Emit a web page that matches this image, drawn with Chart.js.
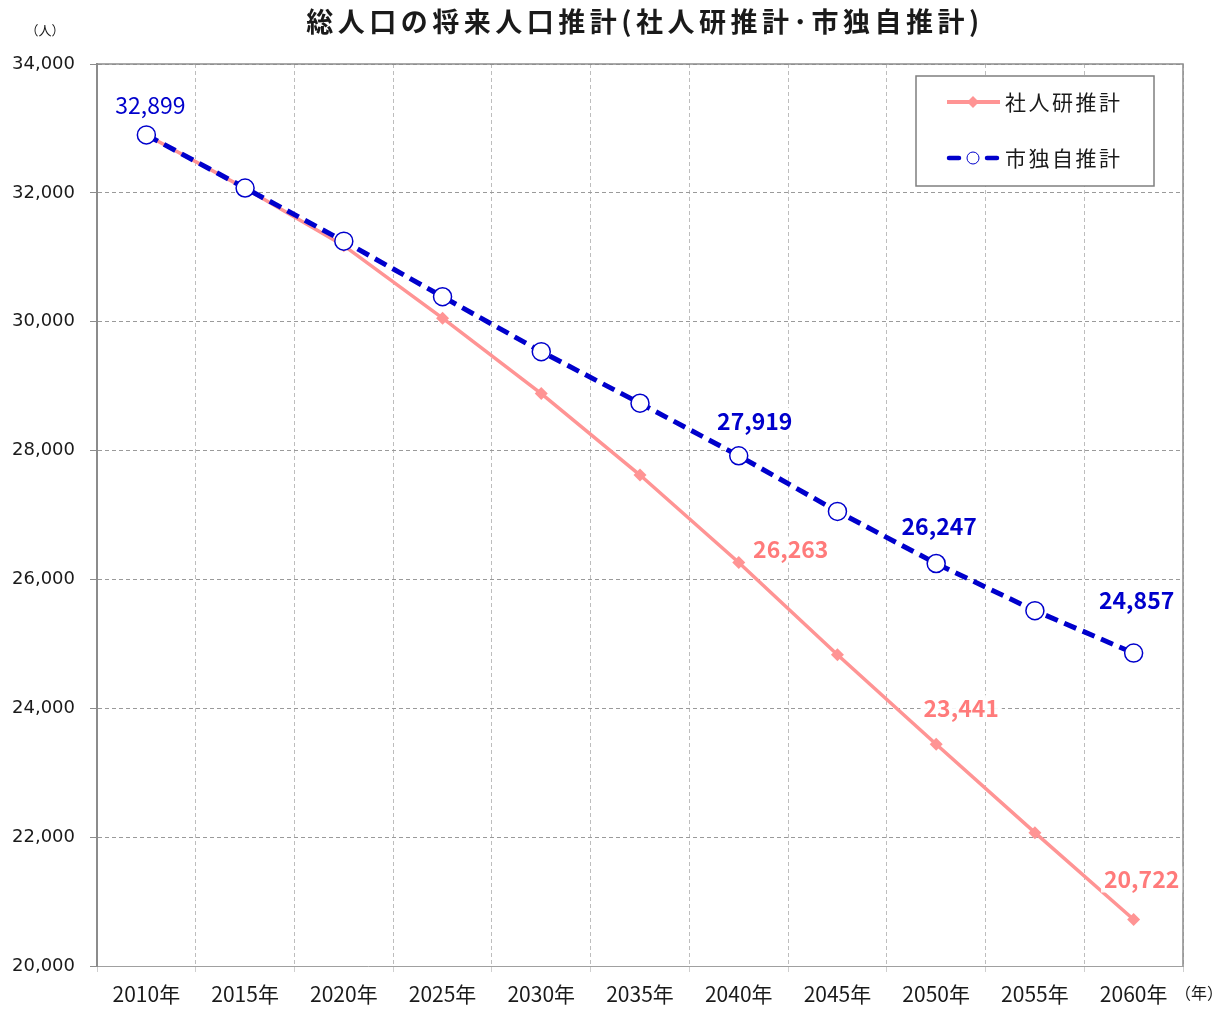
<!DOCTYPE html>
<html>
<head>
<meta charset="utf-8">
<script src="https://cdn.jsdelivr.net/npm/chart.js@4.4.1/dist/chart.umd.min.js"></script>
<style>
  html, body { margin: 0; padding: 0; background: #fff; }
  #wrap { width: 1226px; height: 1009px; position: relative; }
</style>
</head>
<body>
<div id="wrap"><canvas id="chart" width="1226" height="1009"></canvas></div>
<script>
// データ
const years = ['2010年', '2015年', '2020年', '2025年', '2030年', '2035年', '2040年', '2045年', '2050年', '2055年', '2060年'];
const ipssValues = [32899, 32070, 31180, 30055, 28885, 27620, 26263, 24830, 23441, 22070, 20722];
const cityValues = [32899, 32075, 31250, 30388, 29535, 28735, 27919, 27055, 26247, 25515, 24857];
const yTicks = [20000, 22000, 24000, 26000, 28000, 30000, 32000, 34000];
const ipssLabelIdx = [6, 8, 10];
const cityLabelIdx = [0, 6, 8, 10];

const chartTitle = '総人口の将来人口推計(社人研推計･市独自推計)';
const ipssName = '社人研推計';
const cityName = '市独自推計';

const PINK = '#ff9494';
const PINK_TEXT = '#ff7b7b';
const BLUE = '#0000cc';
const JP = '"Noto Sans CJK JP", "Noto Sans", sans-serif';

// ラベル・凡例・枠線を描くプラグイン
const decorPlugin = {
    id: 'decor',
    beforeDatasetsDraw(chart) {
        const { ctx, chartArea: a } = chart;
        ctx.save();
        ctx.strokeStyle = '#8c8c8c';
        ctx.lineWidth = 1.5;
        ctx.beginPath();
        ctx.moveTo(a.left, a.top);
        ctx.lineTo(a.right, a.top);
        ctx.lineTo(a.right, a.bottom);
        ctx.stroke();
        ctx.restore();
    },
    afterDatasetsDraw(chart) {
        const { ctx } = chart;
        const drawLabel = (dsIndex, idx, dx, dy, color, font) => {
            const pt = chart.getDatasetMeta(dsIndex).data[idx];
            const text = chart.data.datasets[dsIndex].data[idx].toLocaleString('en-US');
            ctx.save();
            ctx.font = font;
            ctx.textAlign = 'center';
            ctx.textBaseline = 'middle';
            const w = ctx.measureText(text).width;
            ctx.fillStyle = 'rgba(255,255,255,0.9)';
            ctx.fillRect(pt.x + dx - w / 2 - 3, pt.y + dy - 13, w + 6, 26);
            ctx.fillStyle = color;
            ctx.fillText(text, pt.x + dx, pt.y + dy);
            ctx.restore();
        };
        const pinkOff = { 6: [52, -13], 8: [25, -36], 10: [8, -40] };
        const blueOff = { 0: [4, -30], 6: [16, -35], 8: [3, -37], 10: [3, -53] };
        ipssLabelIdx.forEach(i => drawLabel(0, i, pinkOff[i][0], pinkOff[i][1], PINK_TEXT, 'bold 23px ' + JP));
        cityLabelIdx.forEach(i => drawLabel(1, i, blueOff[i][0], blueOff[i][1], BLUE,
            (i === 0 ? '' : 'bold ') + '23px ' + JP));

        // 凡例
        ctx.save();
        ctx.fillStyle = '#fff';
        ctx.fillRect(916, 76, 238, 110);
        ctx.strokeStyle = '#7f7f7f';
        ctx.lineWidth = 1.5;
        ctx.strokeRect(916, 76, 238, 110);

        ctx.strokeStyle = PINK;
        ctx.lineWidth = 4;
        ctx.beginPath();
        ctx.moveTo(947, 102);
        ctx.lineTo(1000, 102);
        ctx.stroke();
        ctx.fillStyle = PINK;
        ctx.beginPath();
        ctx.moveTo(973, 96); ctx.lineTo(979, 102); ctx.lineTo(973, 108); ctx.lineTo(967, 102);
        ctx.closePath();
        ctx.fill();

        ctx.strokeStyle = BLUE;
        ctx.lineWidth = 4.5;
        ctx.lineCap = 'round';
        ctx.beginPath();
        ctx.moveTo(949, 158); ctx.lineTo(959, 158);
        ctx.moveTo(987, 158); ctx.lineTo(997, 158);
        ctx.stroke();
        ctx.lineCap = 'butt';
        ctx.lineWidth = 1;
        ctx.fillStyle = '#fff';
        ctx.beginPath();
        ctx.arc(973, 158, 6, 0, Math.PI * 2);
        ctx.fill();
        ctx.stroke();

        ctx.fillStyle = '#1a1a1a';
        ctx.font = '21px ' + JP;
        ctx.letterSpacing = '2.5px';
        ctx.textBaseline = 'middle';
        ctx.textAlign = 'left';
        ctx.fillText(ipssName, 1005, 102);
        ctx.fillText(cityName, 1005, 158);

        // タイトル・単位
        ctx.font = 'bold 27px ' + JP;
        ctx.letterSpacing = '4.5px';
        ctx.textAlign = 'center';
        ctx.fillText(chartTitle, 645, 22);
        ctx.letterSpacing = '0px';
        ctx.font = '13px ' + JP;
        ctx.fillText('（人）', 45, 30);
        ctx.font = '16px ' + JP;
        ctx.fillText('（年）', 1199, 993);
        ctx.restore();
    }
};

document.addEventListener('DOMContentLoaded', () => {
    const ctx = document.getElementById('chart').getContext('2d');
    new Chart(ctx, {
        type: 'line',
        data: {
            labels: years,
            datasets: [{
                label: ipssName,
                data: ipssValues,
                borderColor: PINK,
                backgroundColor: PINK,
                borderWidth: 3.5,
                pointStyle: 'rectRot',
                pointRadius: 6.5,
                pointBorderWidth: 0,
                tension: 0,
                order: 2
            }, {
                label: cityName,
                data: cityValues,
                borderColor: BLUE,
                backgroundColor: '#fff',
                borderWidth: 5,
                borderDash: [13, 7],
                pointStyle: 'circle',
                pointRadius: 9,
                pointBorderWidth: 1.5,
                pointBorderColor: BLUE,
                pointBackgroundColor: '#fff',
                tension: 0,
                order: 1
            }]
        },
        options: {
            responsive: false,
            animation: false,
            layout: { padding: { top: 64, right: 43, left: 0, bottom: 0 } },
            plugins: {
                legend: { display: false },
                title: { display: false },
                tooltip: { enabled: false }
            },
            scales: {
                x: {
                    offset: true,
                    grid: {
                        offset: true,
                        color: '#bdbdbd',
                        lineWidth: 1,
                        tickLength: 6,
                        tickColor: '#cfcfcf'
                    },
                    border: { display: true, color: '#a0a0a0', width: 1, dash: [4, 3] },
                    ticks: {
                        color: '#1a1a1a',
                        font: { family: JP, size: 21 },
                        padding: 9,
                        maxRotation: 0,
                        autoSkip: false
                    },
                    afterFit(scale) { scale.height = 43; }
                },
                y: {
                    min: 20000,
                    max: 34000,
                    grid: {
                        color: '#9a9a9a',
                        lineWidth: 1,
                        tickLength: 7,
                        tickColor: '#8c8c8c',
                        tickBorderDash: []
                    },
                    border: { display: true, color: '#8c8c8c', width: 2, dash: [4, 3] },
                    afterBuildTicks(scale) { scale.ticks = yTicks.map(v => ({ value: v })); },
                    ticks: {
                        color: '#1a1a1a',
                        font: { family: '"DejaVu Sans", sans-serif', size: 18 },
                        padding: 15,
                        callback: v => v.toLocaleString('en-US')
                    },
                    afterFit(scale) { scale.width = 97; }
                }
            }
        },
        plugins: [decorPlugin]
    });
});
</script>
</body>
</html>
